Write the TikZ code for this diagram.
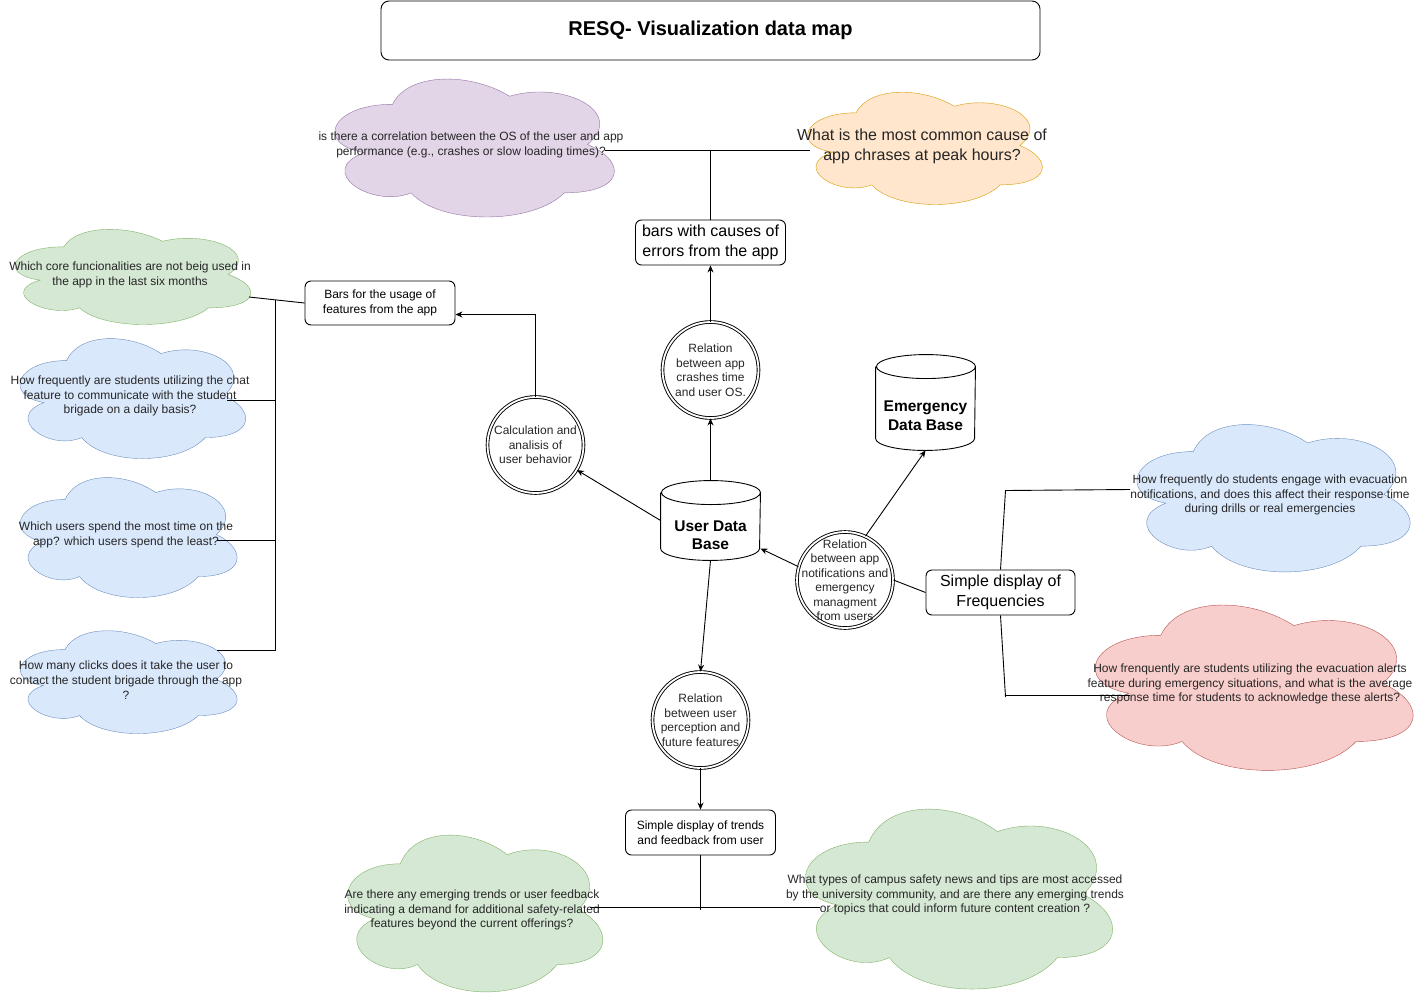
\documentclass[tikz,border=0pt]{standalone}
\usepackage{fontspec}
\setmainfont{Liberation Sans}
\usetikzlibrary{backgrounds,arrows.meta}

\definecolor{purplefill}{HTML}{E1D5E7}
\definecolor{purpleline}{HTML}{9673A6}
\definecolor{orangefill}{HTML}{FFE6CC}
\definecolor{orangeline}{HTML}{D79B00}
\definecolor{greenfill}{HTML}{D5E8D4}
\definecolor{greenline}{HTML}{82B366}
\definecolor{bluefill}{HTML}{DAE8FC}
\definecolor{blueline}{HTML}{6C8EBF}
\definecolor{redfill}{HTML}{F8CECC}
\definecolor{redline}{HTML}{B85450}

\tikzset{
  qtext/.style={align=center, inner sep=0pt, text=black!85, font=\fontsize{12}{14.7}\selectfont},
  chart/.style={draw, rounded corners=6pt, align=center, inner sep=0pt},
  relation/.style={circle, draw, double, double distance=1.8pt, minimum size=96pt, inner sep=0pt},
  rtext/.style={align=center, inner sep=0pt, text=black!85, font=\fontsize{12}{14.5}\selectfont},
  database/.style={minimum width=99pt, inner sep=0pt},
  dbtext/.style={align=center, inner sep=0pt, font=\bfseries\fontsize{15.5}{18.5}\selectfont},
}

% question cloud: [text options]{name}{centre}{width}{height}{colours}{text}
\newcommand{\question}[7][]{%
  \node[qtext, minimum width=#4pt, minimum height=#5pt, #1] (#2) at (#3) {#7};
  \begin{scope}[on background layer, shift={(#2.north west)}, x=#4pt, y=-#5pt]
    \draw[#6] (0.25,0.25) .. controls (0.05,0.25) and (0,0.5) .. (0.16,0.55)
      .. controls (0,0.66) and (0.18,0.9) .. (0.31,0.8)
      .. controls (0.4,1) and (0.7,1) .. (0.8,0.8)
      .. controls (1,0.8) and (1,0.6) .. (0.875,0.5)
      .. controls (1,0.3) and (0.8,0.1) .. (0.625,0.2)
      .. controls (0.5,0.05) and (0.3,0.05) .. (0.25,0.25) -- cycle;
  \end{scope}}

% data base cylinder round a node
\newcommand{\dbshape}[1]{%
  \draw ([yshift=-12pt]#1.north west) -- ([yshift=12pt]#1.south west)
    arc[start angle=180, end angle=360, x radius=49.5pt, y radius=12pt]
    -- ([yshift=-12pt]#1.north east)
    arc[start angle=0, end angle=180, x radius=49.5pt, y radius=12pt]
    arc[start angle=180, end angle=360, x radius=49.5pt, y radius=12pt];}

\begin{document}
\begin{tikzpicture}[x=1pt, y=-1pt, line width=0.9pt, >={Stealth[length=7pt, width=6pt]}]
    \useasboundingbox (0,0) rectangle (1426,1001);
    % title
    \node[draw, rounded corners=8pt, minimum width=659pt, minimum height=59pt,
      font=\bfseries\fontsize{20}{24}\selectfont] (title) at (710.5,30.5) {RESQ- Visualization data map};
    % questions
    \question{qos}{471,145}{312}{161}{fill=purplefill, draw=purpleline}{is there a correlation between the OS of the user and app\\performance (e.g., crashes or slow loading times)?}
    \question[font=\fontsize{16}{20}\selectfont]{qpeak}{922,146}{262}{131}{fill=orangefill, draw=orangeline}{What is the most common cause of\\app chrases at peak hours?}
    \question{qcore}{130,275}{263}{111}{fill=greenfill, draw=greenline}{Which core funcionalities are not beig used in\\the app in the last six months}
    \question{qchat}{130,396}{252}{140}{fill=bluefill, draw=blueline}{How frequently are students utilizing the chat\\feature to communicate with the student\\brigade on a daily basis?}
    \question{qtime}{126,535}{242}{140}{fill=bluefill, draw=blueline}{Which users spend the most time on the\\app? which users spend the least?}
    \question{qclicks}{126,680}{242}{120}{fill=bluefill, draw=blueline}{How many clicks does it take the user to\\contact the student brigade through the app\\?}
    \question{qnotif}{1270,495}{305}{172}{fill=bluefill, draw=blueline}{How frequently do students engage with evacuation\\notifications, and does this affect their response time\\during drills or real emergencies}
    \question{qalerts}{1250,684}{355}{193}{fill=redfill, draw=redline}{How frenquently are students utilizing the evacuation alerts\\feature during emergency situations, and what is the average\\response time for students to acknowledge these alerts?}
    \question{qfeedback}{472,910}{285}{183}{fill=greenfill, draw=greenline}{Are there any emerging trends or user feedback\\indicating a demand for additional safety-related\\features beyond the current offerings?}
    \question{qnews}{955,895}{343}{210}{fill=greenfill, draw=greenline}{What types of campus safety news and tips are most accessed\\by the university community, and are there any emerging trends\\or topics that could inform future content creation ?}
    % charts
    \node[chart, minimum width=150pt, minimum height=45pt, font=\fontsize{16}{20}\selectfont] (bars) at (710.5,242.5) {bars with causes of\\errors from the app};
    \node[chart, minimum width=150pt, minimum height=44pt, font=\fontsize{12}{15}\selectfont] (usage) at (380,303) {Bars for the usage of\\features from the app};
    \node[chart, minimum width=149pt, minimum height=45pt, font=\fontsize{16}{20}\selectfont] (freq) at (1000.5,592.5) {Simple display of\\Frequencies};
    \node[chart, minimum width=150pt, minimum height=45pt, font=\fontsize{12}{15}\selectfont] (trends) at (700.5,832.5) {Simple display of trends\\and feedback from user};
    % relations
    \node[relation] (crash) at (710.5,370) {};
    \node[rtext] (crashtext) at (crash) {Relation\\between app\\crashes time\\and user OS.};
    \node[relation] (calc) at (535.5,445) {};
    \node[rtext] (calctext) at (calc) {Calculation and\\analisis of\\user behavior};
    \node[relation] (notif) at (845,580) {};
    \node[rtext] (notiftext) at (notif) {Relation\\between app\\notifications and\\emergency\\managment\\from users};
    \node[relation] (percep) at (700.5,720) {};
    \node[rtext] (perceptext) at (percep) {Relation\\between user\\perception and\\future features};
    % data bases
    \node[database, minimum height=79pt] (udb) at (710.5,520.5) {};
    \dbshape{udb}
    \node[dbtext] (udbtext) at (710.5,535) {User Data\\Base};
    \node[database, minimum height=95pt] (edb) at (925.5,402.5) {};
    \dbshape{edb}
    \node[dbtext] (edbtext) at (925.5,415.5) {Emergency\\Data Base};
    % connectors of the questions
    \coordinate (qoslink) at (605,150.5);
    \coordinate (qpeaklink) at (810,150.5);
    \coordinate (qcorelink) at (249,297);
    \coordinate (ltop) at (275.5,300);
    \coordinate (lbottom) at (275.5,650.5);
    \coordinate (qchatlink) at (227,400.5);
    \coordinate (qtimelink) at (217,540.5);
    \coordinate (qclickslink) at (217,650.5);
    \coordinate (rtop) at (1005.5,490.5);
    \coordinate (qnotiflink) at (1130,489.5);
    \coordinate (rbottom) at (1005.5,697);
    \coordinate (qalertslink) at (1130,695.5);
    \coordinate (bmid) at (700.5,910);
    \coordinate (qfeedbacklink) at (590,907.5);
    \coordinate (qnewslink) at (820,907.5);
    % lines
    \draw (qoslink) -- (qpeaklink);
    \draw (bars.north) -- (bars.north |- qoslink);
    \draw (qcorelink) -- (usage.west);
    \draw (ltop) -- (lbottom);
    \draw (qchatlink) -- (qchatlink -| ltop);
    \draw (qtimelink) -- (qtimelink -| ltop);
    \draw (qclickslink) -- (lbottom);
    \draw (freq.north) -- (rtop) -- (qnotiflink);
    \draw (freq.south) -- (rbottom);
    \draw (rbottom |- qalertslink) -- (qalertslink);
    \draw (notif.east) -- (freq.west);
    \draw (trends.south) -- (bmid);
    \draw (qfeedbacklink) -- (qnewslink);
    % arrows
    \draw[->] (udb.north) -- (crash.south);
    \draw[->] (crash.north) -- (bars.south);
    \draw[->] (udb.west) -- (calc);
    \draw[->] (calc.north) -- (calc.north |- 0,314.5) -- ([yshift=-11.5pt]usage.east);
    \draw[->] (notif.164) -- ([yshift=-28pt]udb.east);
    \draw[->] (notif.65) -- (edb.south);
    \draw[->] (udb.south) -- (percep.north);
    \draw[->] (percep.south) -- (trends.north);
\end{tikzpicture}
\end{document}
